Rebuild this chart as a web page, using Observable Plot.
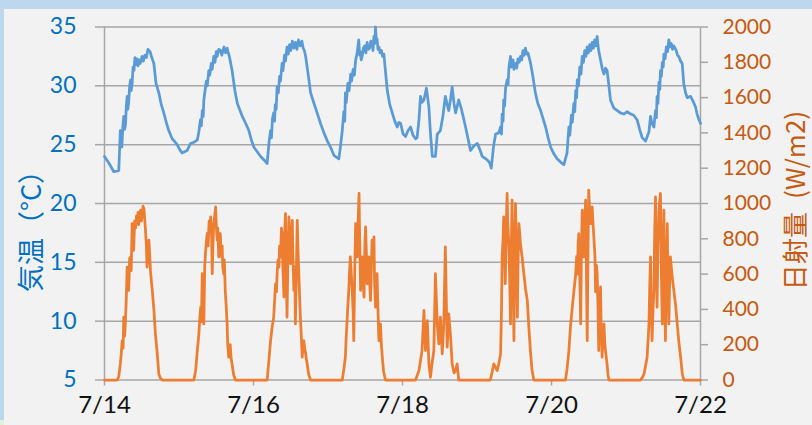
<!DOCTYPE html>
<html>
<head>
<meta charset="utf-8">
<script src="https://cdn.jsdelivr.net/npm/d3@7"></script>
<script src="https://cdn.jsdelivr.net/npm/@observablehq/plot@0.6"></script>
<style>
  html, body { margin: 0; padding: 0; background: #BDD7EE; }
  #wrap { position: relative; width: 812px; height: 425px; overflow: hidden; background: #BDD7EE; }
  #panel { position: absolute; left: 4px; top: 9px; right: 0; bottom: 0; background: #F2F2F2; }
  #corner { position: absolute; left: 0; top: 420px; width: 4px; height: 5px; background: #E2EFDA; }
  #chart { position: absolute; left: 0; top: 0; }
  #chart svg { display: block; }
</style>
</head>
<body>
<div id="wrap"><div id="panel"></div><div id="corner"></div><div id="chart"></div></div>
<script>
// hours since 7/14 00:00, temperature (°C)
const tempPoints = [
[0,24.0],[1.5,23.4],[3,22.7],[4.6,22.8],[5.1,26.2],[5.3,25.0],[5.6,24.8],[5.9,26.5],[6.2,27.4],[6.5,26.3],[6.8,26.8],[7.0,28.2],[7.3,29.1],[7.5,28.0],[7.8,28.6],[8.1,30.0],[8.4,30.5],[8.6,29.6],[8.9,30.2],[9.2,31.6],[9.5,31.3],[9.8,32.4],[10.1,31.8],[10.5,32.3],[10.8,31.7],[11.2,32.2],[11.5,31.9],[12.1,32.5],[12.5,32.1],[13.0,32.6],[13.5,32.4],[14.0,33.1],[14.3,33.0],[14.7,32.9],[15.0,32.6],[15.9,31.9],[16.6,30.2],[17.5,29.4],[18.3,28.4],[19.1,27.7],[20.0,26.8],[20.7,26.2],[21.8,25.5],[22.5,25.3],[23.4,25.0],[24.2,24.6],[25.0,24.3],[26.6,24.5],[27.7,25.1],[28.8,25.2],[29.9,25.4],[30.4,26.1],[30.9,27.1],[31.2,26.6],[31.5,27.9],[31.8,27.4],[32.0,28.8],[32.4,29.6],[32.8,30.4],[33.1,30.0],[33.6,31.3],[33.9,30.9],[34.4,31.9],[34.7,31.4],[35.2,32.5],[35.6,32.0],[36.0,32.9],[36.3,32.5],[36.8,33.1],[37.4,33.0],[37.8,32.6],[38.5,33.3],[39.0,32.8],[39.5,33.2],[40.3,32.4],[41.1,31.3],[42.0,29.6],[42.8,28.5],[44.4,27.4],[45.5,26.8],[46.5,26.2],[47.3,25.4],[48.1,24.8],[49.2,24.4],[50.3,24.0],[51.4,23.7],[52.4,23.4],[53.0,25.2],[53.5,26.2],[53.8,25.6],[54.1,27.2],[54.5,27.7],[54.8,27.0],[55.0,28.4],[55.3,28.0],[55.6,29.9],[56.0,29.4],[56.4,30.8],[56.7,30.4],[57.2,31.9],[57.5,31.3],[58.0,32.6],[58.3,32.1],[58.8,33.3],[59.2,32.7],[59.6,33.5],[60.0,33.0],[60.5,33.8],[61.0,33.2],[61.5,33.7],[62.0,33.1],[62.5,33.9],[63.1,33.4],[63.6,33.8],[64.0,33.2],[64.4,33.0],[64.8,32.5],[65.6,31.0],[66.4,29.4],[67.5,28.5],[68.5,27.7],[69.6,26.8],[70.7,26.0],[71.8,25.3],[72.8,24.8],[73.9,24.1],[75.5,23.8],[76.0,24.8],[76.6,26.2],[77.1,27.8],[77.4,27.0],[77.6,29.4],[77.9,28.6],[78.4,30.2],[78.8,29.6],[79.3,31.0],[79.6,30.4],[80.1,31.4],[80.5,30.9],[80.9,32.2],[81.4,32.8],[81.9,33.9],[82.2,32.6],[82.4,32.9],[82.7,32.2],[83.0,32.5],[83.4,33.2],[83.8,33.4],[84.2,32.8],[84.6,33.7],[85.0,33.1],[85.4,33.2],[85.8,33.8],[86.2,33.6],[86.5,33.0],[86.8,34.2],[87.1,33.6],[87.3,35.0],[87.6,33.8],[87.8,34.0],[88.1,33.1],[88.4,33.3],[88.8,32.8],[89.2,33.0],[89.6,32.5],[90.0,32.7],[90.6,31.0],[91.1,29.6],[91.9,28.4],[92.7,27.7],[93.5,27.0],[94.3,26.5],[94.8,26.9],[95.4,26.8],[96.2,25.9],[97.0,25.7],[97.8,26.2],[98.6,26.5],[99.4,25.8],[100.2,25.5],[100.7,25.6],[101.3,27.1],[101.8,29.1],[102.3,28.6],[102.9,28.8],[103.7,29.8],[104.5,28.2],[105.0,26.0],[105.6,24.0],[106.6,24.0],[107.2,25.9],[108.2,26.2],[109.0,27.4],[109.8,29.1],[110.4,28.4],[110.9,27.9],[111.5,28.9],[112.0,29.9],[112.6,28.5],[113.1,27.7],[114.1,28.8],[115.0,28.0],[115.8,27.1],[116.8,25.9],[117.9,24.5],[119.0,24.9],[120.1,25.1],[120.9,24.6],[121.7,24.0],[123.3,23.7],[124.0,23.5],[124.6,23.0],[125.3,24.8],[126.0,25.9],[127.0,26.0],[127.6,26.5],[127.9,25.9],[128.1,27.6],[128.4,27.0],[128.6,28.8],[128.9,28.3],[129.2,29.8],[129.7,30.5],[130.0,30.1],[130.3,31.6],[130.8,32.5],[131.1,31.6],[131.6,32.2],[131.9,31.4],[132.4,31.9],[132.8,31.5],[133.2,32.3],[133.6,32.0],[134.0,32.5],[134.4,32.2],[134.8,33.0],[135.2,32.6],[135.6,33.2],[136.0,32.7],[136.4,32.8],[137.2,32.0],[138.0,30.8],[138.8,29.4],[139.6,28.5],[140.5,27.9],[141.3,27.2],[142.1,26.5],[142.9,25.6],[143.7,24.8],[144.8,24.2],[145.8,23.8],[147.0,23.5],[148.0,23.3],[149.0,24.3],[149.6,26.5],[149.9,25.8],[150.4,27.5],[150.7,26.9],[151.2,28.5],[151.5,27.8],[151.8,29.6],[152.1,29.0],[152.3,30.5],[152.7,30.0],[153.1,31.6],[153.5,31.0],[153.9,32.5],[154.3,32.0],[154.7,33.0],[155.1,32.5],[155.5,33.3],[155.9,32.8],[156.3,33.5],[156.7,33.0],[157.1,33.7],[157.5,33.2],[157.9,33.9],[158.3,33.4],[158.7,34.2],[159.0,33.4],[159.2,33.0],[159.8,32.2],[160.4,31.4],[160.9,31.0],[161.4,31.5],[161.9,31.3],[162.5,30.0],[163.0,28.8],[164.1,28.1],[165.2,27.9],[166.2,27.7],[167.3,27.6],[168.4,27.8],[169.5,27.6],[170.5,27.5],[171.6,27.1],[172.4,26.3],[173.2,25.6],[174.3,25.3],[175.4,26.1],[175.9,27.4],[176.4,26.8],[177.0,26.5],[177.5,27.9],[177.8,27.3],[178.0,29.1],[178.3,28.5],[178.6,30.3],[178.9,29.7],[179.1,31.3],[179.4,30.8],[179.7,32.0],[180.0,31.6],[180.2,32.7],[180.6,32.3],[181.0,33.3],[181.4,32.9],[181.8,33.9],[182.2,33.3],[182.6,33.6],[183.0,33.1],[183.4,33.4],[184.2,33.0],[184.6,32.6],[185.0,32.5],[185.6,32.1],[186.1,31.9],[186.6,30.2],[187.2,29.4],[187.7,29.0],[188.8,29.1],[189.6,28.7],[190.4,28.2],[190.9,27.6],[191.4,27.2],[192.0,26.8]
];

// hours since 7/14 00:00, solar radiation (W/m2)
const solarPoints = [
[0,0],[4.1,0],[4.6,20],[5.1,91],[5.4,150],[5.7,223],[6.0,180],[6.2,356],[6.5,250],[6.7,318],[7.0,450],[7.3,640],[7.5,560],[7.8,508],[8.1,690],[8.4,697],[8.6,620],[8.9,886],[9.1,780],[9.4,735],[9.7,900],[10.0,860],[10.3,930],[10.5,905],[10.8,950],[11.0,880],[11.3,940],[11.6,962],[11.9,900],[12.1,930],[12.4,985],[12.7,972],[13.0,900],[13.2,849],[13.5,760],[13.7,640],[14.0,700],[14.3,792],[14.6,700],[14.8,621],[15.1,560],[15.4,508],[15.9,400],[16.4,261],[17.0,150],[17.5,34],[18.0,10],[18.6,0],
[28.8,0],[29.4,60],[29.9,167],[30.4,260],[30.7,350],[31.0,413],[31.2,330],[31.5,602],[31.8,500],[32.0,318],[32.3,650],[32.6,735],[32.9,800],[33.1,830],[33.4,760],[33.7,900],[33.9,850],[34.2,924],[34.5,820],[34.7,602],[35.0,800],[35.2,886],[35.5,930],[35.8,981],[36.0,880],[36.3,792],[36.5,860],[36.8,697],[37.0,780],[37.3,830],[37.6,700],[37.9,760],[38.1,640],[38.4,602],[38.6,680],[38.9,508],[39.2,420],[39.5,318],[39.7,200],[40.0,129],[40.3,170],[40.5,200],[40.8,120],[41.1,91],[41.6,30],[42.2,0],
[52.4,0],[53.0,120],[53.5,223],[54.0,300],[54.5,356],[54.8,450],[55.1,545],[55.4,500],[55.6,600],[55.9,680],[56.2,640],[56.4,760],[56.7,697],[57.0,860],[57.2,830],[57.5,620],[57.8,470],[58.0,800],[58.3,943],[58.5,700],[58.8,356],[59.1,700],[59.4,924],[59.6,800],[59.9,659],[60.2,820],[60.5,905],[60.7,700],[61.0,508],[61.3,640],[61.5,318],[61.8,600],[62.1,905],[62.3,760],[62.6,602],[62.9,450],[63.1,356],[63.4,250],[63.7,129],[64.0,200],[64.2,223],[64.5,180],[64.8,150],[65.0,120],[65.3,91],[65.8,30],[66.4,0],
[76.6,0],[77.1,60],[77.6,129],[77.9,260],[78.1,318],[78.4,420],[78.7,508],[78.9,600],[79.2,697],[79.5,600],[79.8,508],[80.1,380],[80.3,223],[80.6,600],[80.9,886],[81.2,760],[81.4,697],[81.7,900],[82.0,1057],[82.2,800],[82.5,508],[82.8,640],[83.0,697],[83.3,560],[83.6,470],[83.9,780],[84.1,867],[84.4,700],[84.6,545],[84.9,640],[85.2,697],[85.4,560],[85.7,451],[86.0,650],[86.2,792],[86.5,700],[86.8,811],[87.0,560],[87.3,413],[87.5,500],[87.8,602],[88.1,400],[88.4,223],[88.6,280],[88.9,318],[89.2,200],[89.5,129],[89.9,50],[90.5,0],
[100.2,0],[101.3,53],[102.3,167],[102.9,394],[103.4,167],[104.0,337],[104.5,91],[105.0,15],[105.5,91],[106.1,167],[106.6,602],[107.2,318],[107.7,205],[108.2,356],[108.8,148],[109.3,318],[109.8,754],[110.4,186],[110.9,375],[111.5,242],[112.0,91],[112.6,40],[113.1,53],[113.6,91],[114.1,0],
[124.3,0],[124.8,40],[125.4,91],[126.0,70],[126.5,53],[127.0,90],[127.6,148],[127.9,400],[128.1,697],[128.4,800],[128.6,924],[128.9,700],[129.1,545],[129.4,850],[129.7,1057],[129.9,900],[130.2,792],[130.5,600],[130.8,318],[131.0,700],[131.3,1019],[131.6,600],[131.9,223],[132.1,700],[132.4,1000],[132.7,700],[133.0,356],[133.2,650],[133.5,886],[133.8,820],[134.0,773],[134.5,700],[135.1,602],[135.6,520],[136.2,451],[136.7,300],[137.2,167],[137.7,60],[138.3,0],
[148.5,0],[149.0,60],[149.6,167],[150.1,300],[150.7,413],[151.2,500],[151.8,602],[152.1,700],[152.3,600],[152.6,780],[152.8,830],[153.1,600],[153.4,318],[153.6,700],[153.9,962],[154.1,850],[154.4,697],[154.7,900],[155.0,1019],[155.2,700],[155.5,223],[155.8,800],[156.0,1076],[156.3,950],[156.6,886],[156.8,950],[157.1,981],[157.4,880],[157.7,792],[158.0,700],[158.2,500],[158.5,650],[158.7,602],[159.0,400],[159.2,167],[159.5,400],[159.8,527],[160.0,300],[160.3,129],[160.6,250],[160.9,318],[161.2,200],[161.5,150],[161.9,91],[162.2,30],[162.5,0],
[172.7,0],[173.3,15],[173.8,34],[174.3,80],[174.8,129],[175.1,220],[175.4,318],[175.6,500],[175.9,697],[176.1,450],[176.4,223],[176.7,400],[177.0,508],[177.2,800],[177.5,1038],[177.7,700],[178.0,413],[178.3,750],[178.6,962],[178.8,1000],[179.1,1057],[179.4,600],[179.7,318],[179.9,700],[180.2,962],[180.4,600],[180.7,223],[181.0,600],[181.3,886],[181.5,600],[181.8,318],[182.0,500],[182.3,697],[182.8,600],[183.4,508],[184.0,420],[184.5,318],[185.0,220],[185.6,129],[186.1,40],[186.6,0],[192,0]
];

const leftTicks = [5, 10, 15, 20, 25, 30, 35];
const rightTicks = [0, 200, 400, 600, 800, 1000, 1200, 1400, 1600, 1800, 2000];
const dateTicks = [0, 48, 96, 144, 192];
const dateLabels = ["7/14", "7/16", "7/18", "7/20", "7/22"];
const leftTitle = "気温（°C）";
const rightTitle = "日射量\u2002(W/m2)";

// secondary axis: map W/m2 onto the temperature scale
const toT = s => 5 + s * 30 / 2000;
const fromT = t => String(Math.round((t - 5) * 2000 / 30));

const grid = "#A6A6A6";

const chart = Plot.plot({
  width: 812,
  height: 425,
  marginLeft: 104,
  marginRight: 112,
  marginTop: 26.5,
  marginBottom: 45.5,
  x: {domain: [0, 192]},
  y: {domain: [5, 35]},
  style: {background: "transparent", fontFamily: "Lato, 'Noto Sans', sans-serif"},
  marks: [
    Plot.ruleY(leftTicks, {stroke: grid, strokeWidth: 1.5}),
    Plot.ruleX([0, 192], {y1: 5, y2: 35, stroke: grid, strokeWidth: 1.5}),
    Plot.axisY({anchor: "left", ticks: leftTicks, tickSize: 9, tickPadding: 19, stroke: grid, strokeWidth: 1.5,
      fill: "#0070C0", fontSize: 23, fontFamily: "Lato", label: null}),
    Plot.axisY({anchor: "right", ticks: rightTicks.map(toT), tickFormat: fromT, tickSize: 7, tickPadding: 15,
      stroke: grid, strokeWidth: 1.5, fill: "#C55A11", fontSize: 21, fontFamily: "Lato", label: null}),
    Plot.axisX({ticks: dateTicks, tickFormat: h => dateLabels[dateTicks.indexOf(h)], tickSize: 6, tickPadding: 10,
      stroke: grid, strokeWidth: 1.5, fill: "#111", fontSize: 24, fontFamily: "Lato", label: null}),
    Plot.line(tempPoints, {x: d => d[0], y: d => d[1], stroke: "#5B9BD5", strokeWidth: 2.75, strokeLinejoin: "round"}),
    Plot.line(solarPoints, {x: d => d[0], y: d => toT(d[1]), stroke: "#ED7D31", strokeWidth: 2.75, strokeLinejoin: "round"}),
    Plot.text([leftTitle], {frameAnchor: "left", dx: -72, dy: 21, rotate: -90, textAnchor: "middle",
      fill: "#0070C0", fontSize: 27, fontFamily: "Noto Sans CJK JP"}),
    Plot.text([rightTitle], {frameAnchor: "right", dx: 96, dy: -3, rotate: -90, textAnchor: "middle",
      fill: "#C55A11", fontSize: 26, fontFamily: "Noto Sans CJK JP"})
  ]
});
document.getElementById("chart").appendChild(chart);
</script>
</body>
</html>
